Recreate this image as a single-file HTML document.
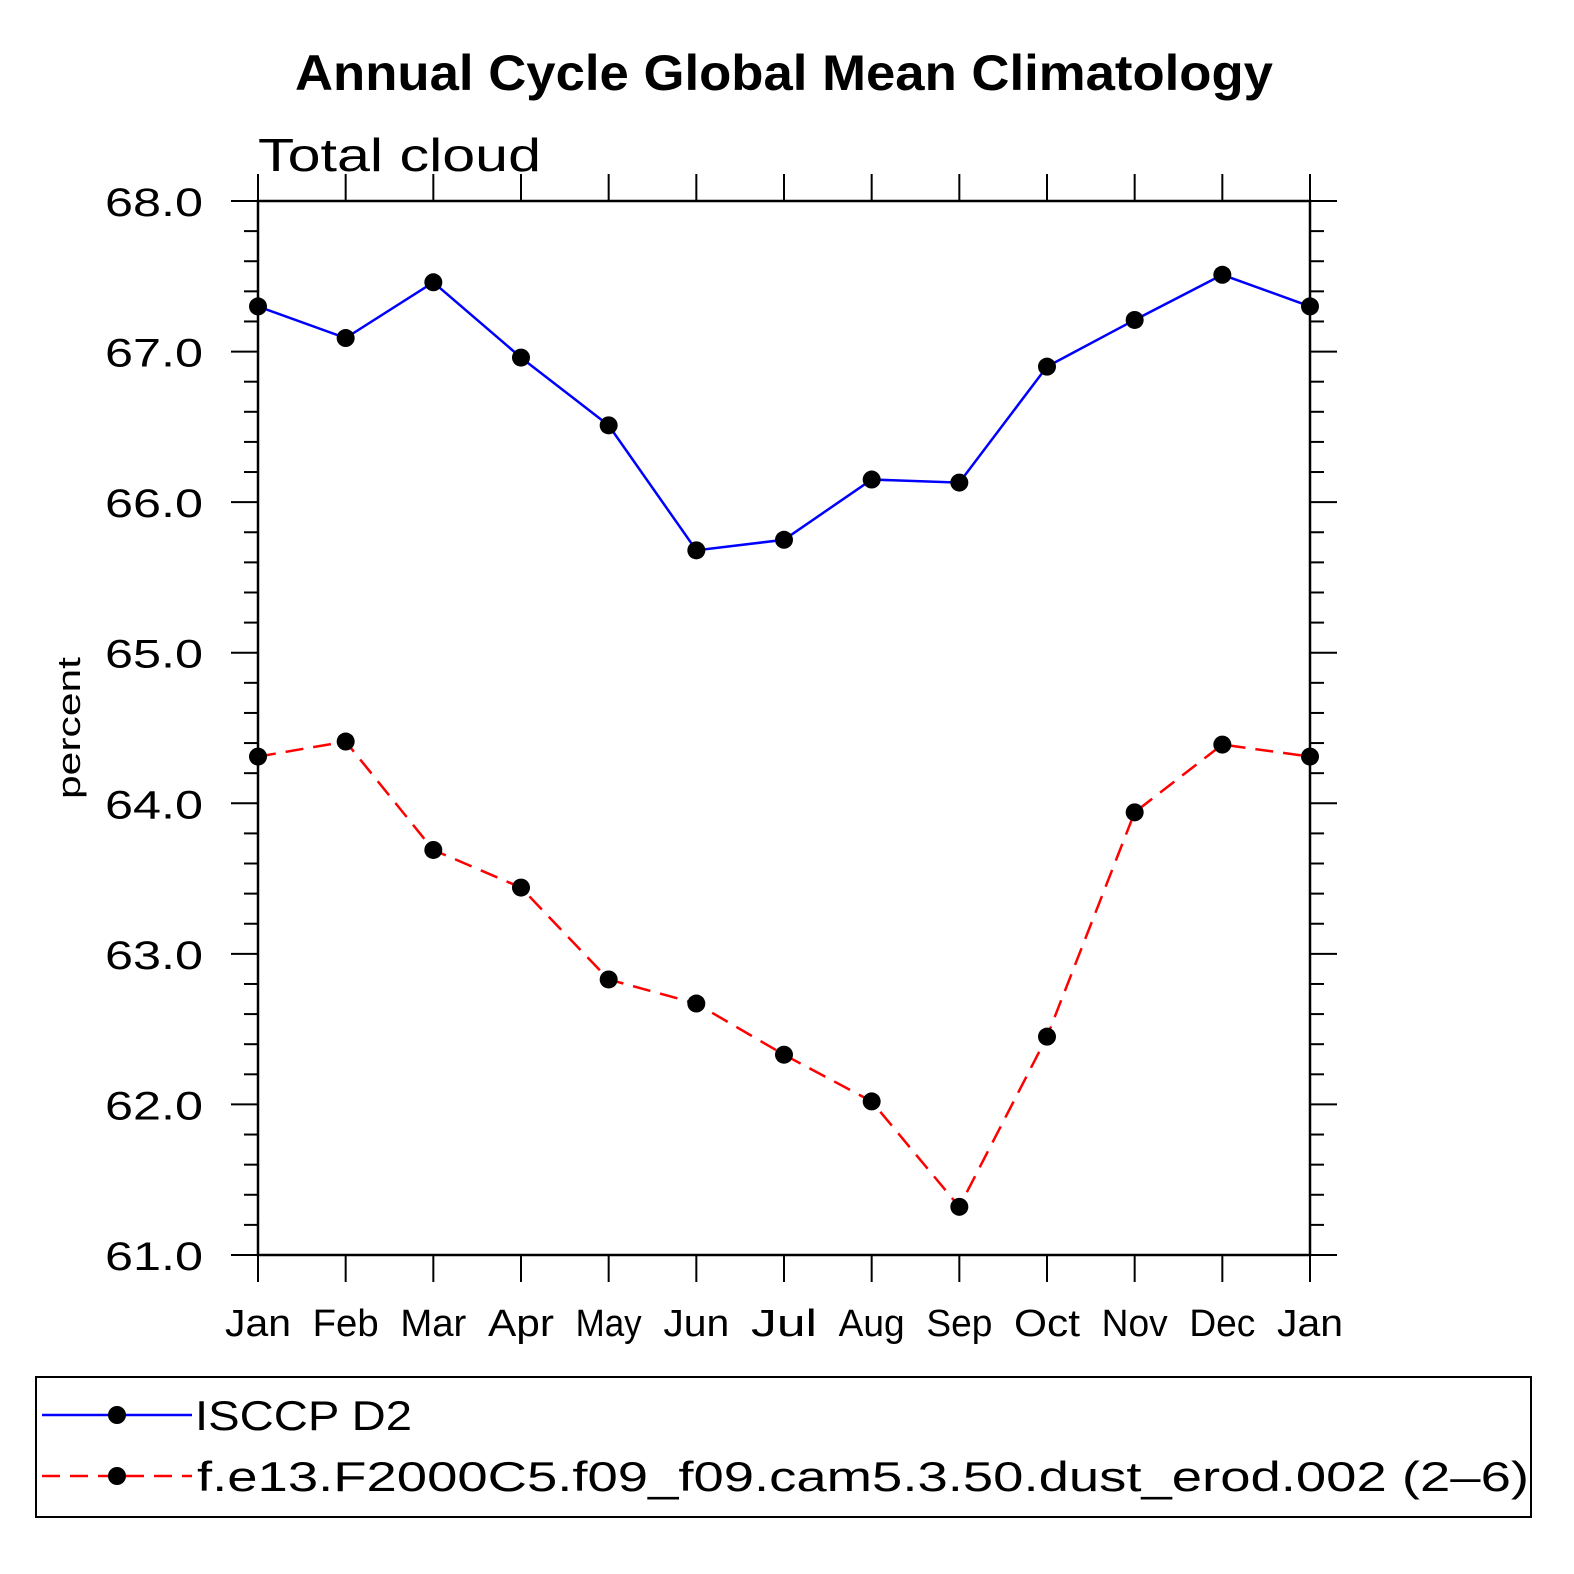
<!DOCTYPE html>
<html><head><meta charset="utf-8"><style>
html,body{margin:0;padding:0;background:#fff;}
svg{display:block;font-family:"Liberation Sans",sans-serif;}
</style></head><body>
<svg id="chart" width="1574" height="1574" viewBox="0 0 1574 1574">
<text x="295" y="90" textLength="978" lengthAdjust="spacingAndGlyphs" font-size="50" font-weight="bold">Annual Cycle Global Mean Climatology</text>
<text x="258" y="171" textLength="283" lengthAdjust="spacingAndGlyphs" font-size="46">Total cloud</text>
<text transform="translate(80,728) rotate(-90)" text-anchor="middle" textLength="142" lengthAdjust="spacingAndGlyphs" font-size="32">percent</text>
<rect x="258" y="201" width="1052" height="1054" fill="none" stroke="#000" stroke-width="2.5"/>
<g id="axes"></g>
<g id="series"></g>
<rect x="36" y="1377" width="1495" height="140" fill="none" stroke="#000" stroke-width="2"/>
<g>
<line x1="42" y1="1415" x2="192" y2="1415" stroke="#0000ff" stroke-width="2.5"/>
<circle cx="117" cy="1415" r="9" fill="#000"/>
<text x="195" y="1430" textLength="217" lengthAdjust="spacingAndGlyphs" font-size="42">ISCCP D2</text>
</g>
<g>
<line x1="42" y1="1476" x2="192" y2="1476" stroke="#ff0000" stroke-width="2.5" stroke-dasharray="18,10"/>
<circle cx="117" cy="1476" r="9" fill="#000"/>
<text x="197" y="1491" textLength="1332" lengthAdjust="spacingAndGlyphs" font-size="42">f.e13.F2000C5.f09_f09.cam5.3.50.dust_erod.002 (2–6)</text>
</g>
</svg>
<script>
const months = ["Jan","Feb","Mar","Apr","May","Jun","Jul","Aug","Sep","Oct","Nov","Dec","Jan"];
const isccp = [67.30,67.09,67.46,66.96,66.51,65.68,65.75,66.15,66.13,66.90,67.21,67.51,67.30];
const model = [64.31,64.41,63.69,63.44,62.83,62.67,62.33,62.02,61.32,62.45,63.94,64.39,64.31];
const yTicks = [61,62,63,64,65,66,67,68];
const yMin = 61, yMax = 68;
const X0 = 258, X1 = 1310, Y0 = 1255, Y1 = 201;
const ns = "http://www.w3.org/2000/svg";
function xs(i){ return X0 + (X1 - X0) * i / (months.length - 1); }
function ys(v){ return Y0 - (Y0 - Y1) * (v - yMin) / (yMax - yMin); }
function mk(tag, attrs, parent){ const e = document.createElementNS(ns, tag); for (const k in attrs) e.setAttribute(k, attrs[k]); parent.appendChild(e); return e; }
const axes = document.getElementById('axes');
for (let v = yMin; v <= yMax + 1e-9; v += 0.2) {
  const major = Math.abs(v - Math.round(v)) < 1e-6;
  const L = major ? 27 : 14;
  const y = ys(v);
  const t1 = mk('line', {x1: X0 - L, y1: y, x2: X0, y2: y, stroke: '#000', 'stroke-width': 2}, axes);
  
  
  const t2 = mk('line', {x1: X1, y1: y, x2: X1 + L, y2: y, stroke: '#000', 'stroke-width': 2}, axes);
  
  
}
yTicks.forEach(v => {
  const t = mk('text', {x: 105, y: ys(v) + 15, textLength: 98, lengthAdjust: 'spacingAndGlyphs', 'font-size': 40}, axes);
  t.textContent = v.toFixed(1);
  
  
});
months.forEach((m, i) => {
  const x = xs(i);
  const a = mk('line', {x1: x, y1: Y0, x2: x, y2: Y0 + 27, stroke: '#000', 'stroke-width': 2}, axes);
  
  
  const b = mk('line', {x1: x, y1: Y1 - 27, x2: x, y2: Y1, stroke: '#000', 'stroke-width': 2}, axes);
  
  
  const w = m.length * 22;
  const t = mk('text', {x: x - w / 2, y: 1336, textLength: w, lengthAdjust: 'spacingAndGlyphs', 'font-size': 38}, axes);
  t.textContent = m;
  
  
});
const series = document.getElementById('series');
function draw(vals, color, dash, name){
  const pts = vals.map((v, i) => xs(i) + ',' + ys(v)).join(' ');
  const pl = mk('polyline', {points: pts, fill: 'none', stroke: color, 'stroke-width': 2.5}, series);
  if (dash) pl.setAttribute('stroke-dasharray', dash);
  
  
  vals.forEach((v, i) => {
    const c = mk('circle', {cx: xs(i), cy: ys(v), r: 9, fill: '#000'}, series);
    
    
  });
}
draw(isccp, '#0000ff', null, 'isccp');
draw(model, '#ff0000', '18,10', 'model');
</script>
</body></html>
